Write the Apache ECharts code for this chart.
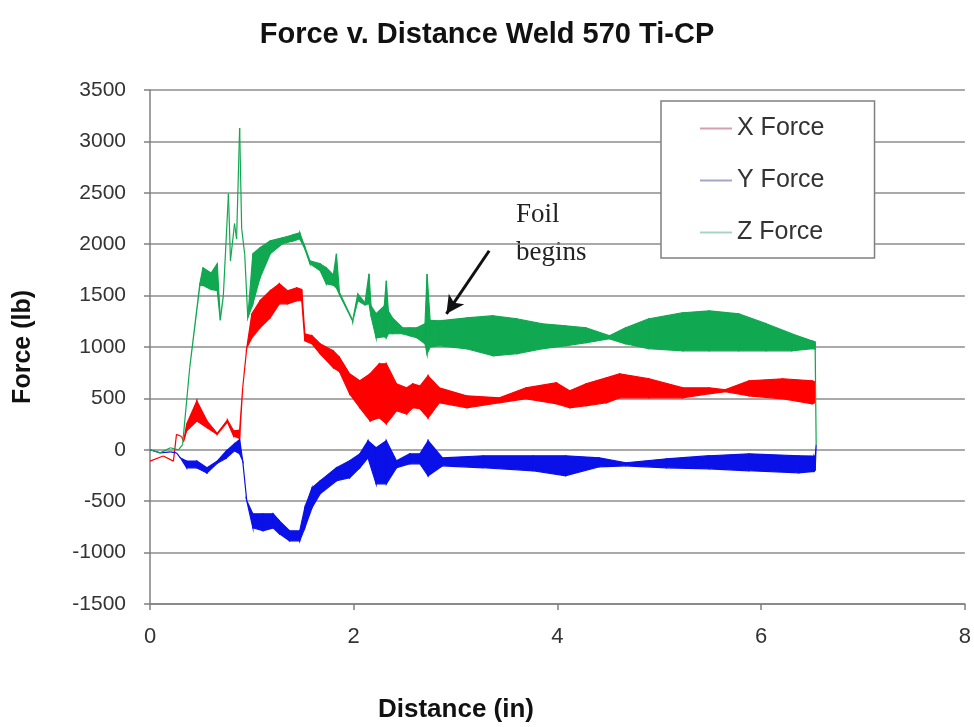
<!DOCTYPE html>
<html>
<head>
<meta charset="utf-8">
<script src="https://cdn.jsdelivr.net/npm/echarts@6/dist/echarts.min.js"></script>
<style>
  html, body { margin: 0; padding: 0; background: #fff; }
  #main { width: 974px; height: 727px; }
</style>
</head>
<body>
<div id="main"></div>
<script>
// envelopes: distance (in), low and high force (lb)
const xDist = [0, 0.13, 0.23, 0.26, 0.31, 0.33, 0.36, 0.46, 0.56, 0.66, 0.76, 0.82, 0.88, 0.91, 0.95, 1.0, 1.08, 1.18, 1.27, 1.35, 1.44, 1.49, 1.52, 1.59, 1.67, 1.8, 1.86, 1.96, 2.06, 2.16, 2.25, 2.32, 2.42, 2.52, 2.58, 2.65, 2.73, 2.84, 3.11, 3.43, 3.69, 3.99, 4.12, 4.28, 4.48, 4.61, 4.9, 5.23, 5.49, 5.65, 5.88, 6.21, 6.5, 6.53];
const xLow  = [-110, -60, -110, 150, 130, 80, 185, 280, 215, 150, 270, 135, 110, 603, 992, 1090, 1187, 1284, 1420, 1420, 1450, 1450, 1060, 1031, 934, 798, 760, 545, 409, 282, 311, 253, 380, 350, 409, 400, 311, 457, 409, 457, 496, 448, 409, 428, 457, 506, 506, 506, 545, 565, 525, 496, 448, 460];
const xHigh = [-110, -60, -110, 150, 130, 80, 250, 475, 280, 160, 290, 185, 190, 603, 992, 1323, 1450, 1547, 1615, 1547, 1576, 1560, 1129, 1109, 1031, 963, 900, 739, 671, 739, 837, 837, 642, 603, 642, 620, 720, 603, 525, 506, 603, 652, 574, 642, 700, 739, 691, 603, 603, 585, 671, 691, 671, 660];

const yDist = [0, 0.1, 0.2, 0.26, 0.3, 0.36, 0.46, 0.56, 0.66, 0.75, 0.83, 0.88, 0.91, 0.95, 1.01, 1.11, 1.21, 1.27, 1.37, 1.47, 1.52, 1.59, 1.67, 1.83, 1.96, 2.06, 2.14, 2.22, 2.32, 2.42, 2.55, 2.65, 2.73, 2.87, 3.27, 3.76, 4.08, 4.41, 4.67, 5.07, 5.49, 5.88, 6.37, 6.52, 6.53, 6.54];
const yLow  = [0, -30, -20, -30, -80, -175, -175, -225, -130, -80, -10, -39, -107, -496, -759, -788, -760, -817, -885, -885, -759, -564, -428, -302, -272, -175, -78, -331, -331, -175, -136, -136, -253, -156, -175, -204, -253, -165, -156, -175, -185, -204, -224, -210, -200, 50];
const yHigh = [0, -30, -20, -30, -80, -110, -110, -175, -110, -10, 60, 100, -107, -496, -623, -623, -623, -691, -788, -788, -564, -370, -302, -175, -107, -39, 88, 20, 88, -107, -39, -39, 88, -78, -58, -58, -58, -78, -126, -88, -58, -39, -58, -60, -80, 50];

const zDist = [0, 0.1, 0.2, 0.28, 0.32, 0.39, 0.49, 0.52, 0.6, 0.66, 0.69, 0.72, 0.77, 0.79, 0.83, 0.85, 0.88, 0.9, 0.93, 0.96, 1.01, 1.08, 1.18, 1.3, 1.4, 1.47, 1.52, 1.57, 1.67, 1.73, 1.8, 1.83, 1.86, 1.99, 2.04, 2.11, 2.15, 2.17, 2.22, 2.3, 2.32, 2.34, 2.38, 2.48, 2.55, 2.62, 2.7, 2.72, 2.75, 2.84, 3.11, 3.37, 3.6, 3.85, 4.08, 4.28, 4.51, 4.67, 4.9, 5.23, 5.49, 5.78, 6.05, 6.3, 6.5, 6.53, 6.54];
const zLow  = [0, -30, 20, 0, 50, 800, 1600, 1600, 1560, 1550, 1260, 1500, 2490, 1840, 2200, 2050, 3130, 2150, 1900, 1284, 1420, 1674, 1907, 2004, 2030, 2053, 1955, 1810, 1742, 1615, 1600, 1576, 1510, 1250, 1450, 1410, 1420, 1300, 1090, 1100, 1090, 1129, 1129, 1129, 1109, 1090, 1031, 934, 1000, 1012, 983, 915, 934, 983, 1012, 1041, 1080, 1031, 983, 963, 963, 963, 963, 963, 983, 980, 50];
const zHigh = [0, -30, 20, 0, 50, 800, 1620, 1770, 1720, 1810, 1280, 1500, 2490, 1840, 2200, 2050, 3130, 2150, 1900, 1284, 1907, 1965, 2033, 2063, 2090, 2111, 1975, 1839, 1810, 1771, 1700, 1907, 1530, 1260, 1518, 1430, 1712, 1400, 1323, 1400, 1644, 1350, 1284, 1187, 1187, 1187, 1226, 1710, 1260, 1255, 1284, 1304, 1275, 1226, 1206, 1187, 1109, 1187, 1275, 1333, 1352, 1323, 1226, 1129, 1060, 1050, 50];

const seriesNames = ['X Force', 'Y Force', 'Z Force'];
const seriesColors = ['#ff0000', '#0a10e8', '#10a850'];
const legendColors = ['#d4a0ac', '#a4a4cc', '#a8d4c4'];

// "Foil begins" arrow, in data units (tail, head)
const arrowTail = [3.33, 1936];
const arrowHead = [2.91, 1323];

function bandSeries(name, color, dist, low, high) {
  return {
    name: name,
    type: 'custom',
    itemStyle: { color: color },
    encode: { x: 0, y: [1, 2] },
    data: dist.map((d, i) => [d, low[i], high[i]]),
    renderItem: function (params, api) {
      const i = params.dataIndex;
      if (i >= dist.length - 1) return;
      const pts = [
        api.coord([dist[i], high[i]]),
        api.coord([dist[i + 1], high[i + 1]]),
        api.coord([dist[i + 1], low[i + 1]]),
        api.coord([dist[i], low[i]])
      ];
      return {
        type: 'polygon',
        shape: { points: pts },
        style: { fill: color, stroke: color, lineWidth: 1.2 }
      };
    }
  };
}

const chart = echarts.init(document.getElementById('main'));
chart.setOption({
  animation: false,
  backgroundColor: '#fff',
  title: {
    text: 'Force v. Distance Weld 570 Ti-CP',
    left: 'center',
    top: 15,
    textStyle: { fontFamily: 'Liberation Sans', fontWeight: 'bold', fontSize: 29, color: '#111' }
  },
  grid: { left: 150, right: 8, top: 90, bottom: 123 },
  legend: {
    orient: 'vertical',
    left: 661,
    top: 101,
    padding: [14, 50, 12, 39],
    itemGap: 25,
    itemWidth: 32,
    itemHeight: 2,
    icon: 'rect',
    backgroundColor: '#fff',
    borderColor: '#808080',
    borderWidth: 1.5,
    borderRadius: 0,
    textStyle: { fontFamily: 'Liberation Sans', fontSize: 25, lineHeight: 27, color: '#333' },
    data: seriesNames.map((n, i) => ({ name: n, itemStyle: { color: legendColors[i] } }))
  },
  xAxis: {
    type: 'value',
    min: 0, max: 8, interval: 2,
    axisLine: { onZero: false, lineStyle: { color: '#808080', width: 1.5 } },
    axisTick: { show: true, length: 6, lineStyle: { color: '#808080', width: 1.5 } },
    axisLabel: { margin: 22, fontFamily: 'Liberation Sans', fontSize: 22, color: '#333' },
    splitLine: { show: false }
  },
  yAxis: {
    type: 'value',
    min: -1500, max: 3500, interval: 500,
    axisLine: { show: true, lineStyle: { color: '#808080', width: 1.5 } },
    axisTick: { show: true, length: 6, lineStyle: { color: '#808080', width: 1.5 } },
    axisLabel: {
      margin: 24, fontFamily: 'Liberation Sans', fontSize: 21, color: '#333',
      formatter: v => String(v)
    },
    splitLine: { lineStyle: { color: '#8c8c8c', width: 1.5 } }
  },
  graphic: [
    {
      type: 'text', left: 11, top: 290, rotation: Math.PI / 2,
      style: { text: 'Force (lb)', font: 'bold 25px "Liberation Sans"', fill: '#111' }
    },
    {
      type: 'text', left: 378, top: 697,
      style: { text: 'Distance (in)', font: 'bold 26px "Liberation Sans"', fill: '#111' }
    },
    {
      type: 'text', left: 516, top: 196,
      style: { text: 'Foil\nbegins', font: '27px "Liberation Serif"', lineHeight: 38, fill: '#222' }
    }
  ],
  series: [
    bandSeries(seriesNames[0], seriesColors[0], xDist, xLow, xHigh),
    bandSeries(seriesNames[1], seriesColors[1], yDist, yLow, yHigh),
    bandSeries(seriesNames[2], seriesColors[2], zDist, zLow, zHigh),
    {
      name: 'arrow',
      type: 'line',
      data: [],
      markLine: {
        silent: true,
        symbol: ['none', 'arrow'],
        symbolSize: [14, 18],
        label: { show: false },
        lineStyle: { color: '#111', width: 3, type: 'solid' },
        data: [[{ coord: arrowTail }, { coord: arrowHead }]]
      }
    }
  ]
});
</script>
</body>
</html>
